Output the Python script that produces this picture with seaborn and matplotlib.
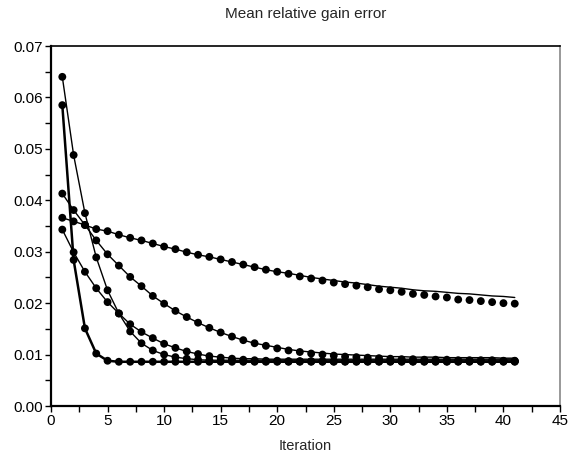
import numpy as np
import pandas as pd
import seaborn as sns
import matplotlib
matplotlib.use("Agg")
import matplotlib.pyplot as plt
from matplotlib.ticker import MultipleLocator, FormatStrFormatter

iterations = list(range(1, 42))

# simulated points (dots)
fast_pts = [0.0585, 0.0284, 0.0151, 0.0102, 0.0088, 0.0086, 0.0086, 0.0086, 0.0086, 0.0086,
            0.0086, 0.0086, 0.0086, 0.0086, 0.0086, 0.0086, 0.0086, 0.0086, 0.0086, 0.0086,
            0.0086, 0.0086, 0.0086, 0.0086, 0.0086, 0.0086, 0.0086, 0.0086, 0.0086, 0.0086,
            0.0086, 0.0086, 0.0086, 0.0086, 0.0086, 0.0086, 0.0086, 0.0086, 0.0086, 0.0086,
            0.0086]
high_pts = [0.0640, 0.0488, 0.0375, 0.0289, 0.0225, 0.0180, 0.0145, 0.0122, 0.0108, 0.0100,
            0.0095, 0.0092, 0.0090, 0.0089, 0.0088, 0.0088, 0.0087, 0.0087, 0.0087, 0.0087,
            0.0087, 0.0087, 0.0087, 0.0087, 0.0087, 0.0087, 0.0087, 0.0087, 0.0087, 0.0087,
            0.0087, 0.0087, 0.0087, 0.0087, 0.0087, 0.0087, 0.0087, 0.0087, 0.0087, 0.0087,
            0.0087]
low_pts = [0.0343, 0.0299, 0.0261, 0.0229, 0.0202, 0.0180, 0.0159, 0.0144, 0.0132, 0.0121,
           0.0113, 0.0106, 0.0101, 0.0097, 0.0094, 0.0092, 0.0090, 0.0089, 0.0088, 0.0088,
           0.0087, 0.0087, 0.0087, 0.0087, 0.0087, 0.0087, 0.0087, 0.0087, 0.0087, 0.0087,
           0.0087, 0.0087, 0.0087, 0.0087, 0.0087, 0.0087, 0.0087, 0.0087, 0.0087, 0.0087,
           0.0087]
mid_pts = [0.0413, 0.0381, 0.0352, 0.0322, 0.0295, 0.0273, 0.0251, 0.0233, 0.0214, 0.0199,
           0.0185, 0.0173, 0.0162, 0.0152, 0.0143, 0.0135, 0.0128, 0.0122, 0.0117, 0.0112,
           0.0108, 0.0105, 0.0102, 0.0100, 0.0098, 0.0096, 0.0095, 0.0094, 0.0093, 0.0092,
           0.0091, 0.0091, 0.0090, 0.0090, 0.0090, 0.0089, 0.0089, 0.0089, 0.0089, 0.0088,
           0.0088]
slow_pts = [0.0366, 0.0359, 0.0352, 0.0344, 0.0340, 0.0333, 0.0327, 0.0322, 0.0316, 0.0310,
            0.0305, 0.0299, 0.0294, 0.0290, 0.0285, 0.0280, 0.0275, 0.0270, 0.0265, 0.0261,
            0.0257, 0.0252, 0.0248, 0.0244, 0.0240, 0.0237, 0.0234, 0.0231, 0.0227, 0.0225,
            0.0222, 0.0218, 0.0216, 0.0213, 0.0211, 0.0207, 0.0206, 0.0204, 0.0202, 0.0200,
            0.0199]

# predicted curves (lines)
fast_line = fast_pts
high_line = [0.0640, 0.0488, 0.0375, 0.0289, 0.0225, 0.0180, 0.0145, 0.0122, 0.0108, 0.0100,
             0.0095, 0.0092, 0.0090, 0.0089, 0.0089, 0.0089, 0.0089, 0.0089, 0.0089, 0.0089,
             0.0089, 0.0089, 0.0089, 0.0089, 0.0089, 0.0089, 0.0089, 0.0089, 0.0089, 0.0089,
             0.0089, 0.0089, 0.0089, 0.0089, 0.0089, 0.0089, 0.0089, 0.0089, 0.0089, 0.0089,
             0.0089]
low_line = [0.0343, 0.0299, 0.0261, 0.0229, 0.0202, 0.0180, 0.0159, 0.0144, 0.0132, 0.0121,
            0.0113, 0.0106, 0.0101, 0.0097, 0.0095, 0.0093, 0.0092, 0.0092, 0.0091, 0.0091,
            0.0091, 0.0091, 0.0091, 0.0091, 0.0091, 0.0091, 0.0091, 0.0091, 0.0091, 0.0091,
            0.0091, 0.0091, 0.0091, 0.0091, 0.0091, 0.0091, 0.0091, 0.0091, 0.0091, 0.0091,
            0.0091]
mid_line = [0.0413, 0.0381, 0.0352, 0.0322, 0.0295, 0.0273, 0.0251, 0.0233, 0.0214, 0.0199,
            0.0185, 0.0173, 0.0162, 0.0152, 0.0143, 0.0135, 0.0128, 0.0122, 0.0118, 0.0114,
            0.0110, 0.0107, 0.0105, 0.0103, 0.0101, 0.0100, 0.0099, 0.0098, 0.0097, 0.0096,
            0.0096, 0.0095, 0.0095, 0.0095, 0.0094, 0.0094, 0.0094, 0.0094, 0.0094, 0.0093,
            0.0093]
slow_line = [0.0366, 0.0359, 0.0352, 0.0344, 0.0340, 0.0333, 0.0327, 0.0322, 0.0316, 0.0310,
             0.0305, 0.0299, 0.0294, 0.0290, 0.0285, 0.0280, 0.0275, 0.0270, 0.0265, 0.0261,
             0.0258, 0.0254, 0.0250, 0.0247, 0.0244, 0.0241, 0.0239, 0.0236, 0.0233, 0.0231,
             0.0229, 0.0226, 0.0224, 0.0223, 0.0221, 0.0219, 0.0218, 0.0216, 0.0214, 0.0213,
             0.0211]

sns.set_style("ticks")
plt.rcParams['font.family'] = ['Liberation Sans', 'DejaVu Sans']

fig = plt.figure(figsize=(5.69, 4.58), dpi=100)
ax = fig.add_axes([51/569, 1 - 406/458, 509/569, 360/458])

lines = [(fast_line, 1.8), (high_line, 1.0), (low_line, 1.0), (mid_line, 1.0), (slow_line, 1.0)]
for vals, lw in lines:
    sns.lineplot(x=iterations, y=vals, color="black", linewidth=lw, ax=ax)

for vals in [fast_pts, high_pts, low_pts, mid_pts, slow_pts]:
    sns.scatterplot(x=iterations, y=vals, color="black", s=32, edgecolor="none", ax=ax, zorder=3)

ax.set_xlim(0, 45)
ax.set_ylim(0, 0.07)
ax.xaxis.set_major_locator(MultipleLocator(5))
ax.xaxis.set_minor_locator(MultipleLocator(2.5))
ax.yaxis.set_major_locator(MultipleLocator(0.01))
ax.yaxis.set_minor_locator(MultipleLocator(0.005))
ax.yaxis.set_major_formatter(FormatStrFormatter('%.2f'))
ax.tick_params(which='both', direction='out', length=4, width=1, colors='black',
               labelsize=11, pad=2)

for side in ['left', 'bottom']:
    ax.spines[side].set_linewidth(1.6)
    ax.spines[side].set_color('black')
ax.spines['top'].set_linewidth(1.2)
ax.spines['top'].set_color('black')
ax.spines['right'].set_linewidth(1.2)
ax.spines['right'].set_color('#888888')

ax.set_title("Mean relative gain error", fontsize=11, pad=20)
ax.set_xlabel("Iteration", fontsize=10.5, labelpad=8)
ax.set_ylabel("")

fig.savefig("out.png", dpi=100)
